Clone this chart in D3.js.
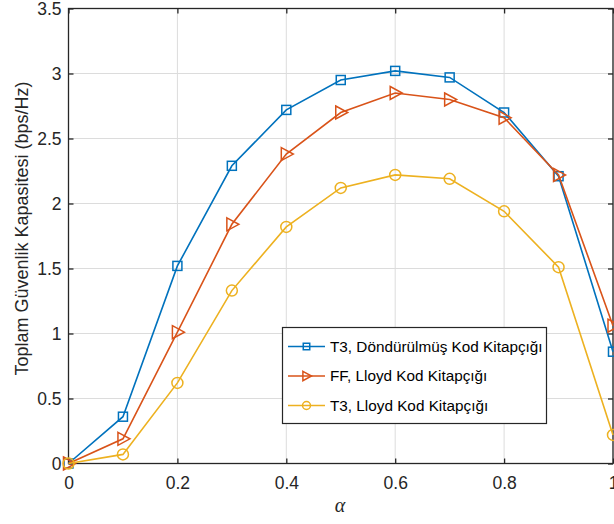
<!DOCTYPE html>
<html>
<head>
<meta charset="utf-8">
<script src="https://cdn.jsdelivr.net/npm/d3@7"></script>
<style>
  html, body { margin: 0; padding: 0; background: #fff; }
  svg { display: block; }
  text { font-family: "Liberation Sans", Arial, Helvetica, sans-serif; }
</style>
</head>
<body>
<svg id="chart" width="614" height="524"></svg>
<script>
// alpha values on the horizontal axis
const alphas = [0, 0.1, 0.2, 0.3, 0.4, 0.5, 0.6, 0.7, 0.8, 0.9, 1.0];

// total secrecy capacity (bps/Hz) for each scheme
const t3Rotated = [0, 0.36, 1.52, 2.29, 2.72, 2.95, 3.02, 2.97, 2.70, 2.21, 0.86];
const ffLloyd   = [0, 0.19, 1.01, 1.84, 2.38, 2.70, 2.85, 2.80, 2.66, 2.22, 1.06];
const t3Lloyd   = [0, 0.07, 0.62, 1.33, 1.82, 2.12, 2.22, 2.19, 1.94, 1.51, 0.22];

const seriesNames = ["T3, Döndürülmüş Kod Kitapçığı", "FF, Lloyd Kod Kitapçığı", "T3, Lloyd Kod Kitapçığı"];
const seriesColors = ["#0072BD", "#D95319", "#EDB120"];
const seriesMarkers = ["square", "triangle", "circle"];

const xTicks = [0, 0.2, 0.4, 0.6, 0.8, 1];
const yTicks = [0, 0.5, 1, 1.5, 2, 2.5, 3, 3.5];
const yLabel = "Toplam Güvenlik Kapasitesi (bps/Hz)";
const xLabel = "α";

const svg = d3.select("#chart");
const margin = { left: 68.5, right: 613, top: 8.5, bottom: 463.5 };

const x = d3.scaleLinear().domain([0, 1]).range([margin.left, margin.right]);
const y = d3.scaleLinear().domain([0, 3.5]).range([margin.bottom, margin.top]);

// grid
const grid = svg.append("g");
grid.selectAll(".gx").data(xTicks).join("line")
  .attr("x1", d => x(d)).attr("x2", d => x(d))
  .attr("y1", margin.top).attr("y2", margin.bottom)
  .attr("stroke", "#dcdcdc").attr("stroke-width", 1);
grid.selectAll(".gy").data(yTicks).join("line")
  .attr("x1", margin.left).attr("x2", margin.right)
  .attr("y1", d => y(d)).attr("y2", d => y(d))
  .attr("stroke", "#dcdcdc").attr("stroke-width", 1);

// axes with inward ticks
const tickLen = 5;
const xAxis = d3.axisBottom(x).tickValues(xTicks).tickSizeInner(-tickLen).tickSizeOuter(0)
  .tickPadding(13).tickFormat(d => d3.format("")(d));
const yAxis = d3.axisLeft(y).tickValues(yTicks).tickSizeInner(-tickLen).tickSizeOuter(0)
  .tickPadding(7).tickFormat(d => d3.format("")(d));
const xTop = d3.axisTop(x).tickValues(xTicks).tickSizeInner(-tickLen).tickSizeOuter(0).tickFormat("");
const yRight = d3.axisRight(y).tickValues(yTicks).tickSizeInner(-tickLen).tickSizeOuter(0).tickFormat("");

function styleAxis(g) {
  g.selectAll("path").remove();
  g.selectAll("line").attr("stroke", "#262626").attr("stroke-width", 1.3);
  g.selectAll("text").attr("fill", "#262626").style("font-size", "17.5px")
    .style("font-family", "'Liberation Sans', Arial, sans-serif");
}

svg.append("g").attr("transform", `translate(0,${margin.bottom})`).call(xAxis).call(styleAxis);
svg.append("g").attr("transform", `translate(${margin.left},0)`).call(yAxis).call(styleAxis);
svg.append("g").attr("transform", `translate(0,${margin.top})`).call(xTop).call(styleAxis);
svg.append("g").attr("transform", `translate(${margin.right},0)`).call(yRight).call(styleAxis);

// box
svg.append("rect")
  .attr("x", margin.left).attr("y", margin.top)
  .attr("width", margin.right - margin.left).attr("height", margin.bottom - margin.top)
  .attr("fill", "none").attr("stroke", "#262626").attr("stroke-width", 1.3);

// markers (k scales the glyph; legend uses smaller ones)
function drawMarker(g, type, color, k = 1) {
  if (type === "square") {
    g.append("rect").attr("x", -4.5 * k).attr("y", -4.5 * k).attr("width", 9 * k).attr("height", 9 * k)
      .attr("fill", "none").attr("stroke", color).attr("stroke-width", 1.5);
  } else if (type === "triangle") {
    g.append("path").attr("d", `M${-5 * k},${-6.5 * k} L${7 * k},0 L${-5 * k},${6.5 * k} Z`)
      .attr("fill", "none").attr("stroke", color).attr("stroke-width", 1.5);
  } else {
    g.append("circle").attr("r", 5.5 * k)
      .attr("fill", "none").attr("stroke", color).attr("stroke-width", 1.5);
  }
}

const allSeries = [t3Rotated, ffLloyd, t3Lloyd];
const line = d3.line().x(d => x(d[0])).y(d => y(d[1]));
const plot = svg.append("g");

allSeries.forEach((vals, i) => {
  const pts = alphas.map((a, j) => [a, vals[j]]);
  plot.append("path").datum(pts).attr("d", line)
    .attr("fill", "none").attr("stroke", seriesColors[i]).attr("stroke-width", 1.6);
  pts.forEach(p => {
    const g = plot.append("g").attr("transform", `translate(${x(p[0])},${y(p[1])})`);
    drawMarker(g, seriesMarkers[i], seriesColors[i]);
  });
});

// legend
const lg = svg.append("g");
lg.append("rect").attr("x", 282.5).attr("y", 327.5).attr("width", 264).attr("height", 96)
  .attr("fill", "#fff").attr("stroke", "#262626").attr("stroke-width", 1.2);
seriesNames.forEach((name, i) => {
  const yy = 346.5 + i * 29.5;
  lg.append("line").attr("x1", 288).attr("x2", 325).attr("y1", yy).attr("y2", yy)
    .attr("stroke", seriesColors[i]).attr("stroke-width", 1.6);
  const m = lg.append("g").attr("transform", `translate(306.5,${yy})`);
  drawMarker(m, seriesMarkers[i], seriesColors[i], 0.72);
  lg.append("text").attr("x", 330).attr("y", yy).attr("dy", "0.35em")
    .attr("fill", "#000").style("font-size", "15.3px").text(name);
});

// axis labels
svg.append("text")
  .attr("transform", `translate(28,228.5) rotate(-90)`)
  .attr("text-anchor", "middle").attr("fill", "#262626").style("font-size", "18px")
  .text(yLabel);
svg.append("text")
  .attr("x", 340).attr("y", 512)
  .attr("text-anchor", "middle").attr("fill", "#262626")
  .style("font-family", "'Liberation Serif', 'DejaVu Serif', serif").style("font-style", "italic")
  .style("font-size", "20px").text(xLabel);
</script>
</body>
</html>
